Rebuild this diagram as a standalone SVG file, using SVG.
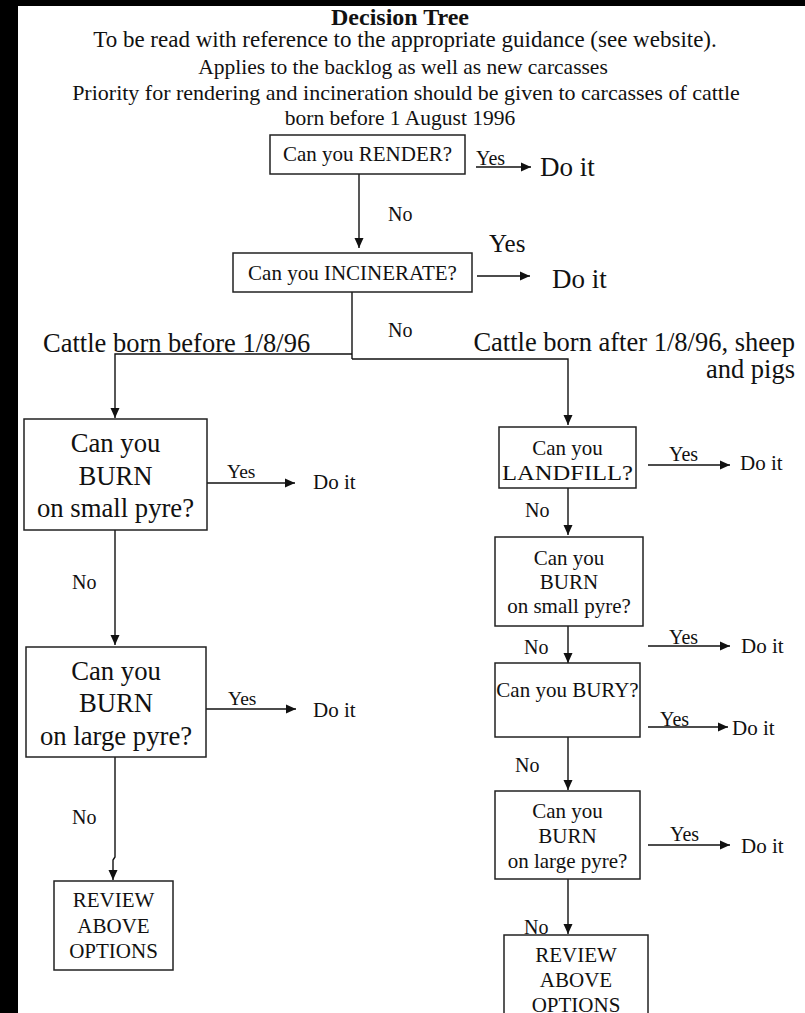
<svg xmlns="http://www.w3.org/2000/svg" width="805" height="1013" viewBox="0 0 805 1013">
<style>
text{font-family:"Liberation Serif","Times New Roman",serif;fill:#111}
.box{fill:#fff;stroke:#222;stroke-width:1.5}
.ln{fill:none;stroke:#111;stroke-width:1.4}
.ar{fill:none;stroke:#111;stroke-width:1.4;marker-end:url(#ah)}
.c{text-anchor:middle}
.r{text-anchor:end}
.t{font-size:21px}
.b{font-size:26.7px}
.lab{font-size:20px}
.do{font-size:21px}
.hd{font-size:21.5px;text-anchor:middle}
</style>
<defs>
<marker id="ah" markerWidth="10" markerHeight="10" refX="10" refY="5" orient="auto" markerUnits="userSpaceOnUse">
<path d="M0,0.5 L10,5 L0,9.5 z" fill="#111"/>
</marker>
</defs>
<rect x="0" y="0" width="805" height="1013" fill="#000"/>
<rect x="18" y="6" width="787" height="1007" fill="#fff"/>
<g id="header">
<text x="400" y="25" class="c" style="font-size:24px;font-weight:bold">Decision Tree</text>
<text x="405" y="47" class="hd" style="font-size:23px">To be read with reference to the appropriate guidance (see website).</text>
<text x="403" y="74" class="hd">Applies to the backlog as well as new carcasses</text>
<text x="406" y="100" class="hd" style="font-size:22px">Priority for rendering and incineration should be given to carcasses of cattle</text>
<text x="400" y="125" class="hd">born before 1 August 1996</text>
</g>
<g id="connectors">
<line class="ar" x1="476" y1="167" x2="531" y2="167"/>
<line class="ar" x1="359" y1="174" x2="359" y2="248"/>
<line class="ar" x1="477" y1="276" x2="530" y2="276"/>
<line class="ln" x1="352" y1="292" x2="352" y2="359"/>
<polyline class="ar" points="352,354 115,354 115,418"/>
<polyline class="ar" points="352,359 568,359 568,425"/>
<line class="ar" x1="207" y1="483" x2="295" y2="483"/>
<line class="ar" x1="115" y1="530" x2="115" y2="645"/>
<line class="ar" x1="206" y1="709" x2="296" y2="709"/>
<polyline class="ar" points="115,757 115,857 113,860 113,880"/>
<line class="ar" x1="648" y1="465" x2="730" y2="465"/>
<line class="ar" x1="568" y1="488" x2="568" y2="535"/>
<line class="ar" x1="568" y1="626" x2="568" y2="663"/>
<line class="ar" x1="648" y1="646" x2="730" y2="646"/>
<line class="ar" x1="648" y1="727" x2="728" y2="727"/>
<line class="ar" x1="568" y1="737" x2="568" y2="790"/>
<line class="ar" x1="648" y1="845" x2="730" y2="845"/>
<line class="ar" x1="568" y1="879" x2="568" y2="934"/>
</g>
<g id="labels">
<text x="476" y="165" class="lab">Yes</text>
<text x="540" y="176" style="font-size:27px">Do it</text>
<text x="388" y="221" class="lab">No</text>
<text x="489" y="252" style="font-size:25px">Yes</text>
<text x="552" y="288" style="font-size:27px">Do it</text>
<text x="388" y="337" class="lab">No</text>
<text x="43" y="352" style="font-size:26.5px">Cattle born before 1/8/96</text>
<text x="795" y="351" class="r" style="font-size:26.5px">Cattle born after 1/8/96, sheep</text>
<text x="795" y="378" class="r" style="font-size:26.5px">and pigs</text>
<text x="227" y="478" style="font-size:19.5px">Yes</text>
<text x="313" y="489" class="do">Do it</text>
<text x="72" y="589" class="lab">No</text>
<text x="228" y="705" style="font-size:19.5px">Yes</text>
<text x="313" y="717" class="do">Do it</text>
<text x="72" y="824" class="lab">No</text>
<text x="669" y="461" class="lab">Yes</text>
<text x="740" y="470" class="do">Do it</text>
<text x="525" y="517" class="lab">No</text>
<text x="669" y="644" class="lab">Yes</text>
<text x="741" y="653" class="do">Do it</text>
<text x="524" y="654" class="lab">No</text>
<text x="660" y="726" class="lab">Yes</text>
<text x="732" y="735" class="do">Do it</text>
<text x="515" y="772" class="lab">No</text>
<text x="670" y="841" class="lab">Yes</text>
<text x="741" y="853" class="do">Do it</text>
<text x="524" y="934" class="lab">No</text>
</g>
<g id="render">
<rect class="box" x="270" y="135" width="195" height="39"/>
<text x="367.5" y="161" class="t c">Can you RENDER?</text>
</g>
<g id="incinerate">
<rect class="box" x="233" y="253" width="239" height="39"/>
<text x="352.5" y="280" class="t c">Can you INCINERATE?</text>
</g>
<g id="burn-small-left">
<rect class="box" x="24" y="419" width="183" height="111"/>
<text x="115.5" y="452" class="b c">Can you</text>
<text x="115.5" y="485" class="b c">BURN</text>
<text x="115.5" y="517" class="b c">on small pyre?</text>
</g>
<g id="burn-large-left">
<rect class="box" x="26" y="647" width="180" height="110"/>
<text x="116" y="680" class="b c">Can you</text>
<text x="116" y="712" class="b c">BURN</text>
<text x="116" y="745" class="b c">on large pyre?</text>
</g>
<g id="review-left">
<rect class="box" x="54" y="881" width="119" height="89"/>
<text x="113.5" y="907" class="t c">REVIEW</text>
<text x="113.5" y="933" class="t c">ABOVE</text>
<text x="113.5" y="958" class="t c">OPTIONS</text>
</g>
<g id="landfill">
<rect class="box" x="499" y="427" width="137" height="61"/>
<text x="567.5" y="455" class="t c">Can you</text>
<text x="567.5" y="480" class="t c" textLength="131" lengthAdjust="spacingAndGlyphs">LANDFILL?</text>
</g>
<g id="burn-small-right">
<rect class="box" x="495" y="537" width="148" height="89"/>
<text x="569" y="565" class="t c">Can you</text>
<text x="569" y="589" class="t c">BURN</text>
<text x="569" y="613" class="t c">on small pyre?</text>
</g>
<g id="bury">
<rect class="box" x="495" y="663" width="145" height="74"/>
<text x="567.5" y="697" class="t c">Can you BURY?</text>
</g>
<g id="burn-large-right">
<rect class="box" x="495" y="791" width="145" height="88"/>
<text x="567.5" y="818" class="t c">Can you</text>
<text x="567.5" y="843" class="t c">BURN</text>
<text x="567.5" y="868" class="t c">on large pyre?</text>
</g>
<g id="review-right">
<rect class="box" x="504" y="935" width="144" height="100"/>
<text x="576" y="962" class="t c">REVIEW</text>
<text x="576" y="987" class="t c">ABOVE</text>
<text x="576" y="1012" class="t c">OPTIONS</text>
</g>
</svg>
